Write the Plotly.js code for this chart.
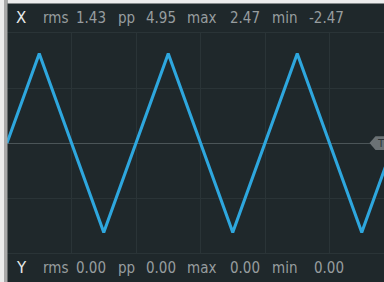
<!DOCTYPE html>
<html>
<head>
<meta charset="utf-8">
<script src="https://cdn.plot.ly/plotly-3.0.1.min.js"></script>
<style>html,body{margin:0;padding:0;background:#1f282b;}#chart{width:384px;height:282px;}</style>
</head>
<body>
<div id="chart"></div>
<script>
// Waveform vertices (time in quarter-periods, volts)
const time = [0, 1, 3, 5, 7, 9, 11, 13];
const volts = [0, 2.47, -2.47, 2.47, -2.47, 2.47, -2.47, 2.47];
// Measurement readouts
const statNames = ['rms', 'pp', 'max', 'min'];
const xStats = ['1.43', '4.95', '2.47', '-2.47'];
const yStats = ['0.00', '0.00', '0.00', '0.00'];
const channelNames = ['X', 'Y'];

const W = 377, H = 220, L = 7, T = 33;
const px = v => (v - L) / W;
const py = v => (T + H - v) / H;

const valX1 = [76, 146, 230, 309].map(v => v - 2);
const valX2 = [76, 146, 230, 314].map(v => v - 2);
const labFont = {family: 'Liberation Sans Narrow, DejaVu Sans Condensed, sans-serif', size: 15, color: '#979d9f'};
const chFont = {family: 'DejaVu Sans, sans-serif', size: 15, color: '#e8eaea'};

const ann = [];
[[18, xStats, valX1], [267.5, yStats, valX2]].forEach((row, r) => {
  const yy = py(row[0]);
  ann.push({xref: 'paper', yref: 'paper', x: px(14), y: yy, xanchor: 'left', yanchor: 'middle', text: channelNames[r], showarrow: false, font: chFont});
  statNames.forEach((n, i) => {
    const nx = [43, 118, 187, 272][i] - 2;
    ann.push({xref: 'paper', yref: 'paper', x: px(nx), y: yy, xanchor: 'left', yanchor: 'middle', text: n, showarrow: false, font: labFont});
    ann.push({xref: 'paper', yref: 'paper', x: px(row[2][i]), y: yy, xanchor: 'left', yanchor: 'middle', text: row[1][i], showarrow: false, font: labFont});
  });
});
ann.push({xref: 'paper', yref: 'y', x: px(375), y: 0, xanchor: 'left', yanchor: 'middle', text: 'T', showarrow: false, font: {family: 'DejaVu Sans, sans-serif', size: 10, color: '#2a3235'}});

const shapes = [
  {type: 'rect', xref: 'paper', yref: 'paper', x0: px(0), x1: px(4), y0: py(282), y1: py(0), fillcolor: '#ececec', line: {width: 0}},
  {type: 'rect', xref: 'paper', yref: 'paper', x0: px(4), x1: px(7.5), y0: py(282), y1: py(0), fillcolor: '#a9a9a9', line: {width: 0}},
  {type: 'rect', xref: 'paper', yref: 'paper', x0: px(7.5), x1: px(384), y0: py(3.5), y1: py(0), fillcolor: '#ececec', line: {width: 0}},
  {type: 'path', xref: 'paper', yref: 'y', path: `M ${px(369.5)} 0 L ${px(375.5)} 0.19 L ${px(386)} 0.19 L ${px(386)} -0.19 L ${px(375.5)} -0.19 Z`, fillcolor: '#6b7275', line: {width: 0}}
];

const data = [{
  x: time, y: volts, type: 'scatter', mode: 'lines',
  line: {color: '#2ea7de', width: 3}, hoverinfo: 'none'
}];

const layout = {
  width: 384, height: 282,
  margin: {l: L, r: 0, t: T, b: 282 - T - H, pad: 0},
  paper_bgcolor: '#1f282b', plot_bgcolor: '#1f282b',
  showlegend: false,
  xaxis: {range: [0, 11.69], tick0: 0, dtick: 2, showticklabels: false, ticks: '', gridcolor: '#2a3437', gridwidth: 1, zeroline: false, showline: true, mirror: true, linecolor: '#2a3437', linewidth: 1, fixedrange: true},
  yaxis: {range: [-3.04, 3.04], tick0: 0, dtick: 1.52, showticklabels: false, ticks: '', gridcolor: '#2a3437', gridwidth: 1, zeroline: true, zerolinecolor: '#4b5558', zerolinewidth: 1, showline: false, fixedrange: true},
  annotations: ann,
  shapes: shapes
};

Plotly.newPlot('chart', data, layout, {displayModeBar: false, staticPlot: true});
</script>
</body>
</html>
